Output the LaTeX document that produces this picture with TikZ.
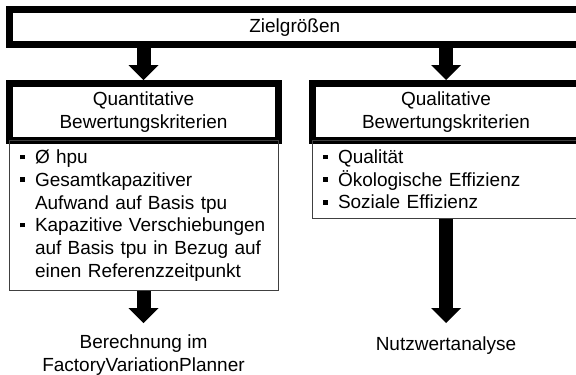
\documentclass[tikz,border=0pt]{standalone}
\usepackage{fontspec}
\setmainfont{Liberation Sans}
\usetikzlibrary{arrows.meta,positioning}

% list bullet and hanging continuation
\newcommand\bul{\makebox[15pt][l]{\rule[4.3pt]{4.6pt}{4.6pt}}}
\newcommand\cont{\hspace*{15pt}}

\begin{document}
\begin{tikzpicture}[x=1pt,y=-1pt,
    font=\fontsize{19}{22.7}\selectfont,
    head/.style={draw,line width=7pt,inner sep=0pt,align=center,minimum height=56.5pt},
    items/.style={draw=black!75,line width=1pt,inner xsep=11pt,inner ysep=0pt,align=left},
    result/.style={anchor=north,inner xsep=0pt,align=center},
    fat/.style={line width=14pt,-{Triangle[width=30pt,length=15pt,line width=0pt]}}]
  \useasboundingbox (0,0) rectangle (576,375);
  \clip (0,0) rectangle (576,375);
  % top bar, runs out on the right
  \node[head,minimum width=570.5pt,minimum height=35.2pt] (ziel) at (294.75,27.1) {Zielgrößen};
  % the two criteria columns
  \node[head,minimum width=269pt] (quant) at (143.5,111.75) {Quantitative\\Bewertungskriterien};
  \node[head,minimum width=268pt] (qual) at (446,111.75) {Qualitative\\Bewertungskriterien};
  \node[items,text width=247pt,minimum height=150pt,below=-3.5pt of quant] (quantlist)
    {\bul Ø hpu\\
     \bul Gesamtkapazitiver\\
     \cont Aufwand auf Basis tpu\\
     \bul Kapazitive Verschiebungen\\
     \cont auf Basis tpu in Bezug auf\\
     \cont einen Referenzzeitpunkt};
  \node[items,text width=246pt,minimum height=77.7pt,below=-3.5pt of qual] (quallist)
    {\bul Qualität\\
     \bul Ökologische Effizienz\\
     \bul Soziale Effizienz};
  % where each column ends up
  \node[result,inner ysep=11.4pt] (berech) at (143.5,323) {Berechnung im\\FactoryVariationPlanner};
  \node[result,inner ysep=13.4pt] (nutzwert) at (446,323) {Nutzwertanalyse};
  \draw[fat] (ziel.south -| quant) -- (quant.north);
  \draw[fat] (ziel.south -| qual) -- (qual.north);
  \draw[fat] (quantlist.south) -- (berech.north);
  \draw[fat] (quallist.south) -- (nutzwert.north);
\end{tikzpicture}
\end{document}
